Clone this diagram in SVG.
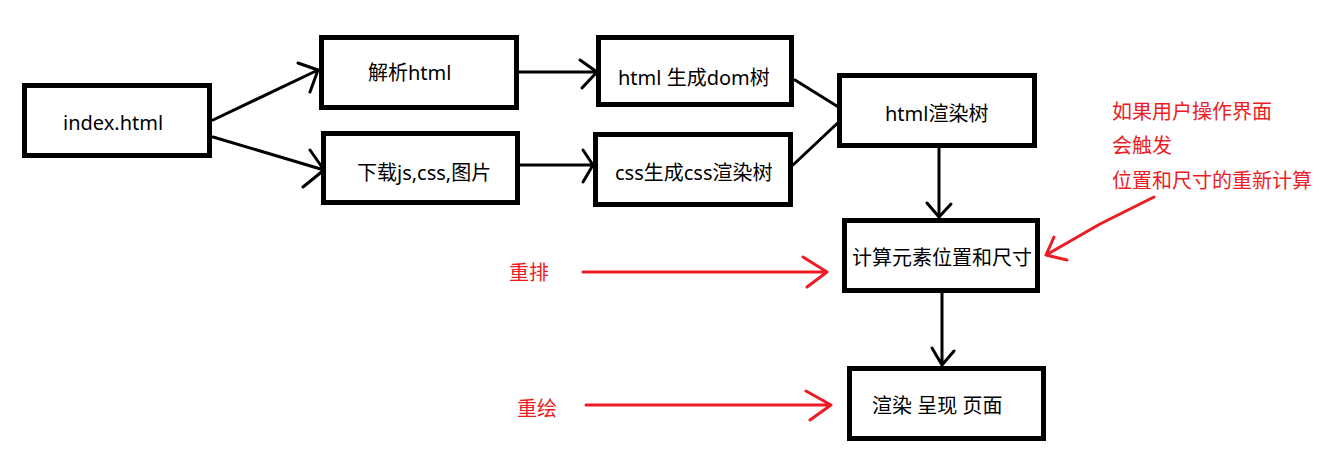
<svg xmlns="http://www.w3.org/2000/svg" width="1338" height="470" viewBox="0 0 1338 470">
<style>
.box{fill:#fff;stroke:#000;stroke-width:5}
.t{font-family:"Noto Sans","Noto Sans CJK SC",sans-serif;font-size:20px;fill:#000;dominant-baseline:central}
.r{fill:#ed1c24}
.c{fill:none;stroke:#000;stroke-width:3;stroke-linecap:round;stroke-linejoin:round}
.rc{fill:none;stroke:#ed1c24;stroke-width:3;stroke-linecap:round;stroke-linejoin:round}
</style>
<rect width="1338" height="470" fill="#fff"/>
<g id="connectors">
<path class="c" d="M213 120 L318 70 M298 63 L318 70 L310 92"/>
<path class="c" d="M213 137 L324 170 M310 150 L324 170 L303 187"/>
<path class="c" d="M519 72 L597 72 M580 60 L597 72 L582 88"/>
<path class="c" d="M520 165 L593 165 M583 150 L593 165 L583 182"/>
<path class="c" d="M795 80 L840 108"/>
<path class="c" d="M793 165 L843 118"/>
<path class="c" d="M939 148 L939 217 M927 203 L939 217 L951 204"/>
<path class="c" d="M942 293 L942 365 M932 348 L942 365 L954 351"/>
<path class="rc" d="M583 272 L827 272 M803 257 L827 272 L807 287"/>
<path class="rc" d="M586 405 L831 405 M806 391 L831 405 L810 420"/>
<path class="rc" d="M1154 197 L1100 224 L1046 255 M1054 237 L1046 255 L1067 260"/>
</g>
<g id="index"><rect class="box" x="24.5" y="85.5" width="185" height="70"/><text class="t" x="63" y="122">index.html</text></g>
<g id="parse"><rect class="box" x="321.5" y="37.5" width="195" height="70"/><text class="t" x="368" y="72">解析html</text></g>
<g id="download"><rect class="box" x="323.5" y="133.5" width="194" height="69"/><text class="t" x="357" y="172">下载js,css,图片</text></g>
<g id="dom"><rect class="box" x="598.5" y="37.5" width="193" height="67"/><text class="t" x="618" y="77">html 生成dom树</text></g>
<g id="cssom"><rect class="box" x="595.5" y="134.5" width="195" height="70"/><text class="t" x="615" y="172">css生成css渲染树</text></g>
<g id="rendertree"><rect class="box" x="839.5" y="75.5" width="195" height="70"/><text class="t" x="885" y="113">html渲染树</text></g>
<g id="layout"><rect class="box" x="844.5" y="220.5" width="193" height="70"/><text class="t" x="852" y="257">计算元素位置和尺寸</text></g>
<g id="paint"><rect class="box" x="849.5" y="368.5" width="194" height="70"/><text class="t" x="872" y="405">渲染 呈现 页面</text></g>
<g id="note">
<text class="t r" x="1112" y="111">如果用户操作界面</text>
<text class="t r" x="1112" y="145">会触发</text>
<text class="t r" x="1112" y="180">位置和尺寸的重新计算</text>
</g>
<g id="reflow"><text class="t r" x="509" y="272">重排</text></g>
<g id="repaint"><text class="t r" x="517" y="408">重绘</text></g>
</svg>
